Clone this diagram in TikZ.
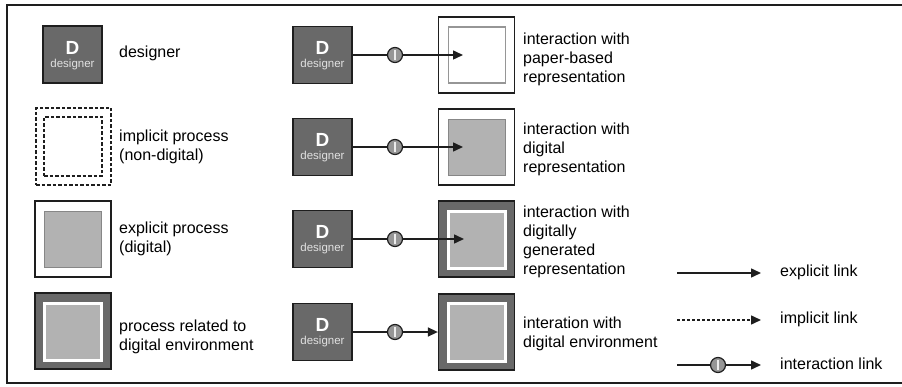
\documentclass[tikz,border=0pt]{standalone}
\usepackage{fontspec}
\setmainfont{Liberation Sans}
\usetikzlibrary{arrows.meta}
\definecolor{dgray}{RGB}{105,105,105}
\definecolor{dline}{RGB}{30,30,30}
\definecolor{lgray}{RGB}{178,178,178}
\definecolor{mgray}{RGB}{135,135,135}
\definecolor{bgray}{RGB}{150,150,150}
\definecolor{wtext}{RGB}{225,225,225}
\tikzset{
  des/.style={rectangle, draw=dline, fill=dgray, line width=1.1pt, minimum width=59pt, minimum height=57pt, inner sep=0pt},
  bigD/.style={font=\fontsize{19}{19}\selectfont\bfseries, text=white, inner sep=0pt},
  smalld/.style={font=\fontsize{11.5}{12}\selectfont, text=wtext, inner sep=0pt},
  outerw/.style={rectangle, draw=dline, fill=white, line width=1.3pt, minimum width=76pt, minimum height=76pt, inner sep=0pt},
  outerd/.style={rectangle, draw=dline, fill=dgray, line width=1.3pt, minimum width=76pt, minimum height=76pt, inner sep=0pt},
  innerpaper/.style={rectangle, draw=bgray, fill=white, line width=1.8pt, minimum width=57pt, minimum height=56pt, inner sep=0pt},
  innerdig/.style={rectangle, draw=mgray, fill=lgray, line width=1.8pt, minimum width=57pt, minimum height=56pt, inner sep=0pt},
  innerenv/.style={rectangle, draw=white, fill=lgray, line width=3pt, minimum width=57pt, minimum height=57pt, inner sep=0pt},
  dashbox/.style={rectangle, draw=dline, dash pattern=on 3.5pt off 2pt, line width=1.1pt, inner sep=0pt},
  lbl/.style={anchor=west, align=left, inner sep=0pt, font=\fontsize{16}{19}\selectfont, text=black},
  ibub/.style={circle, draw=dline, fill=bgray, line width=1.2pt, minimum size=15pt, inner sep=0pt},
  link/.style={draw=dline, line width=1.5pt},
  arr/.style={draw=dline, line width=1.5pt, -{Triangle[length=10pt,width=9pt]}},
}
\newcommand\desbox[2]{%
  \node[des] (#1) at (#2) {};
  \node[bigD] (#1D) at ([yshift=7pt]#1.center) {D};
  \node[smalld] (#1n) at ([yshift=-10pt]#1.center) {designer};
}
\newcommand\ibubble[2]{%
  \node[ibub] (#1) at (#2) {};
  \fill[white!85!gray] ([xshift=-1.2pt,yshift=-5pt]#1.center) rectangle ([xshift=1.2pt,yshift=5pt]#1.center);
}
\begin{document}
\begin{tikzpicture}[x=1pt,y=-1pt]
\useasboundingbox (0,0) rectangle (902,387);
\fill[white] (0,0) rectangle (902,387);
\draw[line width=2.2pt, dline] (910,5) -- (7,5) -- (7,383) -- (910,383);

% ---- column 1 legend ----
\desbox{L1}{72.5,54.5}
\node[lbl] (L1t) at (119,53) {designer};

\node[dashbox, minimum width=75pt, minimum height=77pt] (L2o) at (73.5,146.5) {};
\node[dashbox, minimum width=58pt, minimum height=59pt] (L2i) at (73,146.5) {};
\node[lbl] (L2t) at (119,147) {implicit process\\(non-digital)};

\node[outerw] (L3o) at (73,239) {};
\node[innerdig] (L3i) at (73,239.5) {};
\node[lbl] (L3t) at (119,238.5) {explicit process\\(digital)};

\node[outerd] (L4o) at (73,331) {};
\node[innerenv] (L4i) at (72.5,332) {};
\node[lbl] (L4t) at (119,336.5) {process related to\\digital environment};

% ---- column 2 ----
\desbox{D1}{322.5,55}
\desbox{D2}{322.5,147}
\desbox{D3}{322.5,239}
\desbox{D4}{322.5,332}

\node[outerw] (B1) at (476.5,55) {};
\node[innerpaper] (B1i) at (477,55) {};
\node[outerw] (B2) at (476.5,147) {};
\node[innerdig] (B2i) at (477,147.5) {};
\node[outerd] (B3) at (476.5,239) {};
\node[innerenv] (B3i) at (477,240) {};
\node[outerd] (B4) at (476.5,332) {};
\node[innerenv] (B4i) at (477,332.5) {};

\ibubble{I1}{395,55}
\ibubble{I2}{395,147}
\ibubble{I3}{395,239}
\ibubble{I4}{395,332}

\coordinate (T1) at (463,55);
\coordinate (T2) at (463,147);
\coordinate (T3) at (464,239);

\draw[link] (D1.east) -- (I1.west);
\draw[arr] (I1.east) -- (T1);
\draw[link] (D2.east) -- (I2.west);
\draw[arr] (I2.east) -- (T2);
\draw[link] (D3.east) -- (I3.west);
\draw[arr] (I3.east) -- (T3);
\draw[link] (D4.east) -- (I4.west);
\draw[arr] (I4.east) -- (B4.west);

\node[lbl] (B1t) at (523,59.5) {interaction with\\paper-based\\representation};
\node[lbl] (B2t) at (523,149) {interaction with\\digital\\representation};
\node[lbl] (B3t) at (523,241.5) {interaction with\\digitally\\generated\\representation};
\node[lbl] (B4t) at (523,334) {interation with\\digital environment};

% ---- link legend ----
\coordinate (E1) at (677,273);
\coordinate (E2) at (761,273);
\coordinate (M1) at (677,320);
\coordinate (M2) at (761,320);
\coordinate (N1) at (677,365);
\coordinate (N2) at (761,365);
\ibubble{IN}{718,365}
\draw[arr] (E1) -- (E2);
\draw[arr, dash pattern=on 3pt off 2pt] (M1) -- (M2);
\draw[link] (N1) -- (IN.west);
\draw[arr] (IN.east) -- (N2);
\node[lbl] (Et) at (780,272) {explicit link};
\node[lbl] (Mt) at (780,319) {implicit link};
\node[lbl] (Nt) at (780,364) {interaction link};
\end{tikzpicture}
\end{document}
